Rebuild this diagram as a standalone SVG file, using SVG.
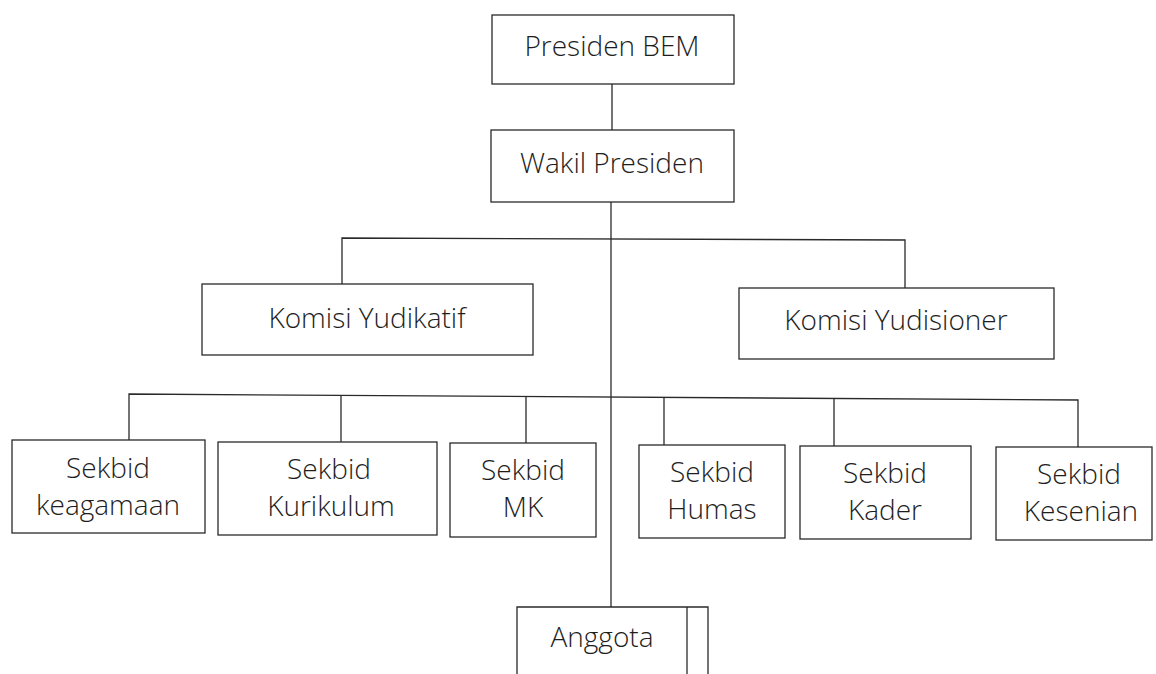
<svg xmlns="http://www.w3.org/2000/svg" width="1156" height="674" viewBox="0 0 1156 674">
<style>
.box{fill:#fff;stroke:#2a2a2a;stroke-width:1.3}
.ln{fill:none;stroke:#2a2a2a;stroke-width:1.3}
.t{font-family:"Open Sans","Liberation Sans",sans-serif;font-weight:300;font-size:28px;fill:#1e1e1e;text-anchor:middle}
</style>
<rect width="1156" height="674" fill="#fff"/>
<g id="connectors">
<path class="ln" d="M612,84 V130"/>
<path class="ln" d="M611,202 V607"/>
<path class="ln" d="M342,284 V238 L905,240 V288"/>
<path class="ln" d="M129,440 V394 L1078,400 V447"/>
<path class="ln" d="M341,395 V442"/>
<path class="ln" d="M526,396 V443"/>
<path class="ln" d="M664,397 V445"/>
<path class="ln" d="M834,399 V446"/>
</g>
<g id="presiden">
<rect class="box" x="492" y="15" width="242" height="69"/>
<text class="t" x="612" y="56">Presiden BEM</text>
</g>
<g id="wakil">
<rect class="box" x="491" y="130" width="243" height="72"/>
<text class="t" x="612" y="173">Wakil Presiden</text>
</g>
<g id="yudikatif">
<rect class="box" x="202" y="284" width="331" height="71"/>
<text class="t" x="367" y="328">Komisi Yudikatif</text>
</g>
<g id="yudisioner">
<rect class="box" x="739" y="288" width="315" height="71"/>
<text class="t" x="896" y="330">Komisi Yudisioner</text>
</g>
<g id="keagamaan">
<rect class="box" x="12" y="440" width="193" height="93"/>
<text class="t" x="108" y="478">Sekbid</text>
<text class="t" x="108" y="515">keagamaan</text>
</g>
<g id="kurikulum">
<rect class="box" x="218" y="442" width="219" height="93"/>
<text class="t" x="329" y="479">Sekbid</text>
<text class="t" x="331" y="516">Kurikulum</text>
</g>
<g id="mk">
<rect class="box" x="450" y="443" width="146" height="94"/>
<text class="t" x="523" y="480">Sekbid</text>
<text class="t" x="523" y="517">MK</text>
</g>
<g id="humas">
<rect class="box" x="639" y="445" width="146" height="93"/>
<text class="t" x="712" y="482">Sekbid</text>
<text class="t" x="712" y="519">Humas</text>
</g>
<g id="kader">
<rect class="box" x="800" y="446" width="171" height="93"/>
<text class="t" x="885" y="483">Sekbid</text>
<text class="t" x="885" y="520">Kader</text>
</g>
<g id="kesenian">
<rect class="box" x="996" y="447" width="156" height="93"/>
<text class="t" x="1079" y="484">Sekbid</text>
<text class="t" x="1081" y="521">Kesenian</text>
</g>
<g id="anggota">
<path class="box" d="M517,674 V607 H708 V674"/>
<path class="ln" d="M687,607 V674"/>
<text class="t" x="602" y="647">Anggota</text>
</g>
</svg>
